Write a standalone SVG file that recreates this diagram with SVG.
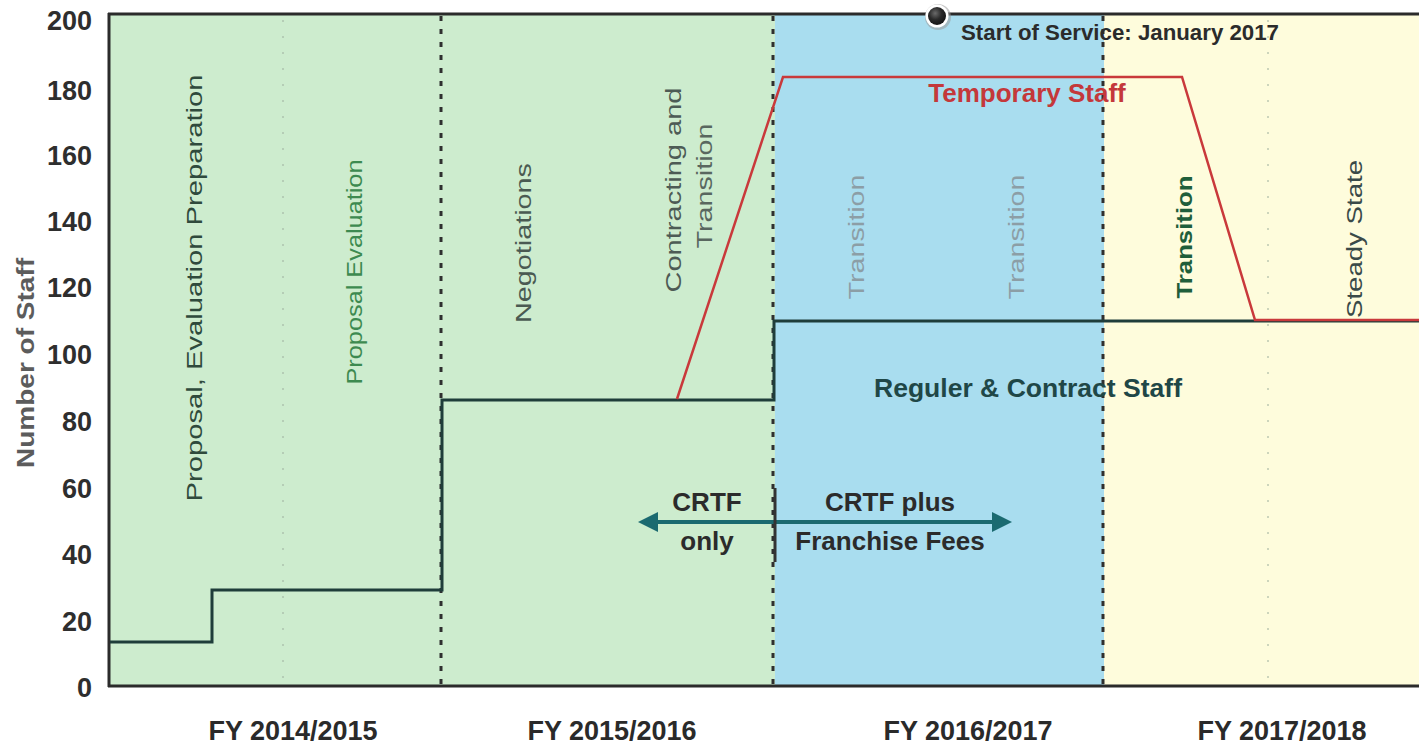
<svg xmlns="http://www.w3.org/2000/svg" width="1419" height="744" viewBox="0 0 1419 744">
  <defs>
    <style>
      .tick { font-family: "Liberation Sans", Arial, sans-serif; font-weight: bold; font-size: 27px; fill: #2e2e2e; text-anchor: end; }
      .fy { font-family: "Liberation Sans", Arial, sans-serif; font-weight: bold; font-size: 27px; fill: #2a2a2a; text-anchor: middle; }
      .phase { font-family: "Liberation Sans", Arial, sans-serif; font-size: 22px; text-anchor: middle; }
      .note { font-family: "Liberation Sans", Arial, sans-serif; font-weight: bold; text-anchor: middle; }
      .divider { stroke: #2f2f2f; stroke-width: 3; stroke-dasharray: 5 8; fill: none; }
      .faint { stroke: #9fb0a0; stroke-width: 1.5; stroke-dasharray: 2 14; fill: none; opacity: 0.7; }
    </style>
    <marker id="arrowHead" viewBox="0 0 20 20" refX="2" refY="10" markerWidth="20" markerHeight="20" markerUnits="userSpaceOnUse" orient="auto-start-reverse">
      <path d="M0,0 L20,10 L0,20 Z" fill="#1b6a70"/>
    </marker>
    <radialGradient id="dotFill" cx="0.4" cy="0.35" r="0.7">
      <stop offset="0" stop-color="#6a6a6a"/>
      <stop offset="0.5" stop-color="#2a2a2a"/>
      <stop offset="1" stop-color="#111"/>
    </radialGradient>
  </defs>

  <rect x="0" y="0" width="1419" height="744" fill="#ffffff"/>

  <!-- fiscal-period shading -->
  <g id="bands">
    <rect x="110" y="14" width="665" height="672" fill="#cdecce"/>
    <rect x="775" y="14" width="329" height="672" fill="#a9ddef"/>
    <rect x="1104" y="14" width="315" height="672" fill="#fefcdc"/>
  </g>

  <!-- phase dividers -->
  <g id="dividers">
    <line class="faint" x1="283" y1="20" x2="283" y2="680"/>
    <line class="faint" x1="1268" y1="20" x2="1268" y2="680"/>
    <line class="divider" x1="441" y1="16" x2="441" y2="686"/>
    <line class="divider" x1="773" y1="16" x2="773" y2="686"/>
    <line class="divider" x1="1103" y1="16" x2="1103" y2="686"/>
  </g>

  <!-- axes -->
  <g id="axes" stroke="#2b2b2b" stroke-width="3" fill="none">
    <line x1="108" y1="14" x2="1419" y2="14"/>
    <line x1="109" y1="13" x2="109" y2="687"/>
    <line x1="108" y1="686" x2="1419" y2="686"/>
  </g>

  <g id="y-ticks">
    <text class="tick" x="92" y="30">200</text>
    <text class="tick" x="92" y="100">180</text>
    <text class="tick" x="92" y="165">160</text>
    <text class="tick" x="92" y="231">140</text>
    <text class="tick" x="92" y="297">120</text>
    <text class="tick" x="92" y="364">100</text>
    <text class="tick" x="92" y="431">80</text>
    <text class="tick" x="92" y="498">60</text>
    <text class="tick" x="92" y="564">40</text>
    <text class="tick" x="92" y="631">20</text>
    <text class="tick" x="92" y="697">0</text>
  </g>

  <g id="y-title">
    <text transform="translate(34,363) rotate(-90)" font-family="Liberation Sans, Arial, sans-serif" font-weight="bold" font-size="23" fill="#5c5c5c" text-anchor="middle" textLength="210" lengthAdjust="spacingAndGlyphs">Number of Staff</text>
  </g>

  <g id="x-labels">
    <text class="fy" x="293" y="740">FY 2014/2015</text>
    <text class="fy" x="612" y="740">FY 2015/2016</text>
    <text class="fy" x="968" y="740" fill="#3a3a3a">FY 2016/2017</text>
    <text class="fy" x="1282" y="740">FY 2017/2018</text>
  </g>

  <!-- phase names -->
  <g id="phases">
    <text class="phase" transform="translate(202,288) rotate(-90)" fill="#2f4a3c" textLength="427" lengthAdjust="spacingAndGlyphs">Proposal, Evaluation Preparation</text>
    <text class="phase" transform="translate(362,272) rotate(-90)" fill="#3d8a50" textLength="225" lengthAdjust="spacingAndGlyphs">Proposal Evaluation</text>
    <text class="phase" transform="translate(531,243) rotate(-90)" fill="#4a5a52" textLength="160" lengthAdjust="spacingAndGlyphs">Negotiations</text>
    <text class="phase" transform="translate(681,190) rotate(-90)" fill="#4d5b55" textLength="205" lengthAdjust="spacingAndGlyphs">Contracting and</text>
    <text class="phase" transform="translate(712,186) rotate(-90)" fill="#59675f" textLength="125" lengthAdjust="spacingAndGlyphs">Transition</text>
    <text class="phase" transform="translate(864,237) rotate(-90)" fill="#8c9ea6" textLength="125" lengthAdjust="spacingAndGlyphs">Transition</text>
    <text class="phase" transform="translate(1024,237) rotate(-90)" fill="#8c9ea6" textLength="125" lengthAdjust="spacingAndGlyphs">Transition</text>
    <text class="phase" transform="translate(1192,237) rotate(-90)" fill="#1f5e3a" font-weight="bold" textLength="123" lengthAdjust="spacingAndGlyphs">Transition</text>
    <text class="phase" transform="translate(1362,239) rotate(-90)" fill="#3a4a48" textLength="158" lengthAdjust="spacingAndGlyphs">Steady State</text>
  </g>

  <!-- staffing series -->
  <g id="series" fill="none">
    <path id="regular-staff" d="M110,642 H212 V590 H442 V400 H774 V321 H1419" stroke="#1f3d3a" stroke-width="3"/>
    <path id="temporary-staff" d="M677,399 L783,77 H1182 L1255,320 H1419" stroke="#c9393b" stroke-width="2.5" stroke-linejoin="miter"/>
  </g>

  <g id="series-labels">
    <text class="note" x="1027" y="102" font-size="26" fill="#c4383a">Temporary Staff</text>
    <text class="note" x="1028" y="397" font-size="26" fill="#1f4747" textLength="308" lengthAdjust="spacingAndGlyphs">Reguler &amp; Contract Staff</text>
  </g>

  <!-- service start marker -->
  <g id="service-start">
    <circle cx="938" cy="17" r="13" fill="#9a9a9a" opacity="0.55"/>
    <circle cx="937" cy="16" r="11.5" fill="#ffffff"/>
    <circle cx="937" cy="16" r="9" fill="url(#dotFill)"/>
    <text class="note" x="1120" y="40" font-size="22" fill="#2b2b2b" textLength="318" lengthAdjust="spacingAndGlyphs">Start of Service: January 2017</text>
  </g>

  <!-- funding split -->
  <g id="connectors">
    <line x1="656" y1="522" x2="994" y2="522" stroke="#1b6a70" stroke-width="4" marker-start="url(#arrowHead)" marker-end="url(#arrowHead)"/>
    <line x1="775" y1="488" x2="775" y2="562" stroke="#333" stroke-width="3"/>
  </g>

  <g id="funding-labels">
    <text class="note" x="707" y="511" font-size="26" fill="#2b2b2b">CRTF</text>
    <text class="note" x="707" y="550" font-size="26" fill="#2b2b2b">only</text>
    <text class="note" x="890" y="511" font-size="26" fill="#2b2b2b">CRTF plus</text>
    <text class="note" x="890" y="550" font-size="26" fill="#2b2b2b">Franchise Fees</text>
  </g>
</svg>
